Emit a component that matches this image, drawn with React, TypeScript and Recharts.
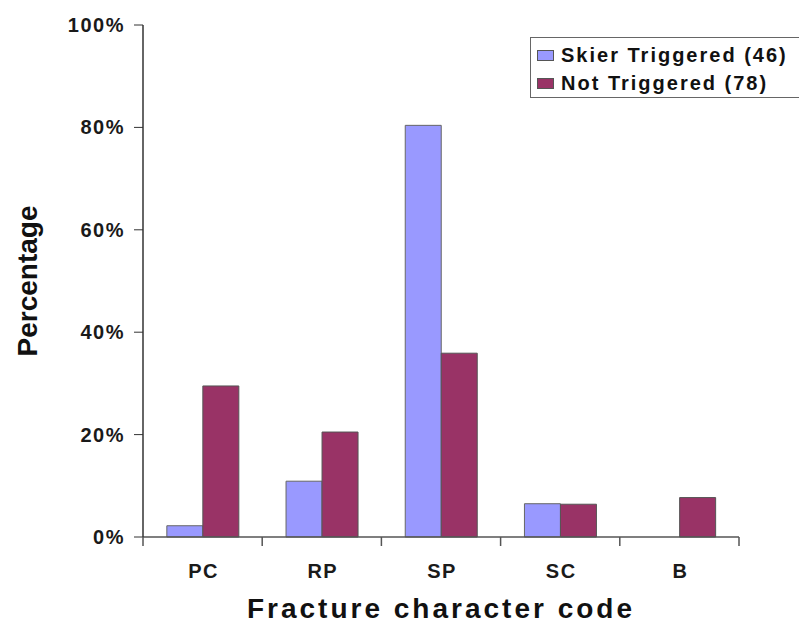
import { BarChart, Bar, XAxis, YAxis, Legend, Label } from "recharts";

const categories = ["PC", "RP", "SP", "SC", "B"];
const skierTriggered = [2.2, 10.9, 80.4, 6.5, 0];
const notTriggered = [29.5, 20.5, 35.9, 6.4, 7.7];
const yTicks = [0, 20, 40, 60, 80, 100];

const seriesNames = ["Skier Triggered (46)", "Not Triggered (78)"];
const seriesColors = ["#9999FF", "#993366"];

const data = categories.map((code, i) => ({
  code,
  skier: skierTriggered[i],
  notTriggered: notTriggered[i],
}));

const FONT = "'Liberation Sans', Arial, sans-serif";

const CategoryTick = (props: any) => {
  const { x, y, payload, index, visibleTicksCount } = props;
  const half = payload.offset ?? 0;
  return (
    <g>
      <line x1={x - half} x2={x - half} y1={y} y2={y + 9} stroke="#555" strokeWidth={1.5} />
      {index === visibleTicksCount - 1 && (
        <line x1={x + half} x2={x + half} y1={y} y2={y + 9} stroke="#555" strokeWidth={1.5} />
      )}
      <text
        x={x + 1}
        y={y + 41}
        textAnchor="middle"
        fontFamily={FONT}
        fontSize={20}
        fontWeight="bold"
        letterSpacing={1.5}
        fill="#1a1a1a"
      >
        {payload.value}
      </text>
    </g>
  );
};

const PercentTick = (props: any) => {
  const { x, y, payload } = props;
  return (
    <text
      x={x}
      y={y}
      dy="0.35em"
      textAnchor="end"
      fontFamily={FONT}
      fontSize={20}
      fontWeight="bold"
      letterSpacing={1.5}
      fill="#1a1a1a"
    >
      {`${payload.value}%`}
    </text>
  );
};

const XTitle = (props: any) => {
  const vb = props.viewBox;
  return (
    <text
      x={vb.x + vb.width / 2}
      y={vb.y + vb.height - 6}
      textAnchor="middle"
      fontFamily={FONT}
      fontSize={28}
      fontWeight="bold"
      letterSpacing={3}
      fill="#111"
    >
      Fracture character code
    </text>
  );
};

const YTitle = (props: any) => {
  const vb = props.viewBox;
  const cx = 37;
  const cy = vb.y + vb.height / 2;
  return (
    <text
      x={cx}
      y={cy}
      textAnchor="middle"
      transform={`rotate(-90, ${cx}, ${cy})`}
      fontFamily={FONT}
      fontSize={28}
      fontWeight="bold"
      fill="#111"
    >
      Percentage
    </text>
  );
};

const LegendBox = (props: any) => {
  const items = [...(props.payload || [])].sort(
    (a: any, b: any) => seriesNames.indexOf(a.value) - seriesNames.indexOf(b.value)
  );
  return (
    <div
      style={{
        border: "1.5px solid #666",
        padding: "3px 0 0 6px",
        width: 280,
        height: 61,
        boxSizing: "border-box",
        background: "#fff",
        fontFamily: FONT,
        fontSize: 20,
        fontWeight: "bold",
        letterSpacing: 2,
        color: "#111",
      }}
    >
      {items.map((item: any) => (
        <div key={item.value} style={{ display: "flex", alignItems: "center", height: 28, lineHeight: "28px" }}>
          <span
            style={{
              display: "inline-block",
              width: 17,
              height: 11,
              background: item.color,
              border: "1px solid #555",
              boxSizing: "border-box",
              marginRight: 7,
            }}
          />
          <span>{item.value}</span>
        </div>
      ))}
    </div>
  );
};

export default function App() {
  return (
    <div
      style={{
        position: "absolute",
        left: 0,
        top: 0,
        width: 799,
        height: 624,
        overflow: "hidden",
        background: "#fff",
      }}
    >
      <BarChart
        width={799}
        height={624}
        data={data}
        margin={{ top: 25, right: 60, bottom: 0, left: 0 }}
        barCategoryGap="20%"
        barGap={0}
      >
        <XAxis
          dataKey="code"
          height={87}
          axisLine={{ stroke: "#555", strokeWidth: 1.5 }}
          tickLine={false}
          tickSize={0}
          tickMargin={0}
          tick={<CategoryTick />}
          interval={0}
        >
          <Label content={<XTitle />} />
        </XAxis>
        <YAxis
          width={143}
          domain={[0, 100]}
          ticks={yTicks}
          axisLine={{ stroke: "#333", strokeWidth: 1.5 }}
          tickLine={{ stroke: "#333", strokeWidth: 1 }}
          tickSize={9}
          tickMargin={9}
          tick={<PercentTick />}
        >
          <Label content={<YTitle />} />
        </YAxis>
        <Legend
          layout="vertical"
          align="center"
          verticalAlign="middle"
          content={<LegendBox />}
          wrapperStyle={{ left: 530, top: 37, width: 280 }}
        />
        <Bar
          dataKey="skier"
          name={seriesNames[0]}
          fill={seriesColors[0]}
          stroke="#666"
          strokeWidth={1}
          isAnimationActive={false}
        />
        <Bar
          dataKey="notTriggered"
          name={seriesNames[1]}
          fill={seriesColors[1]}
          stroke="#555"
          strokeWidth={1}
          isAnimationActive={false}
        />
      </BarChart>
    </div>
  );
}
